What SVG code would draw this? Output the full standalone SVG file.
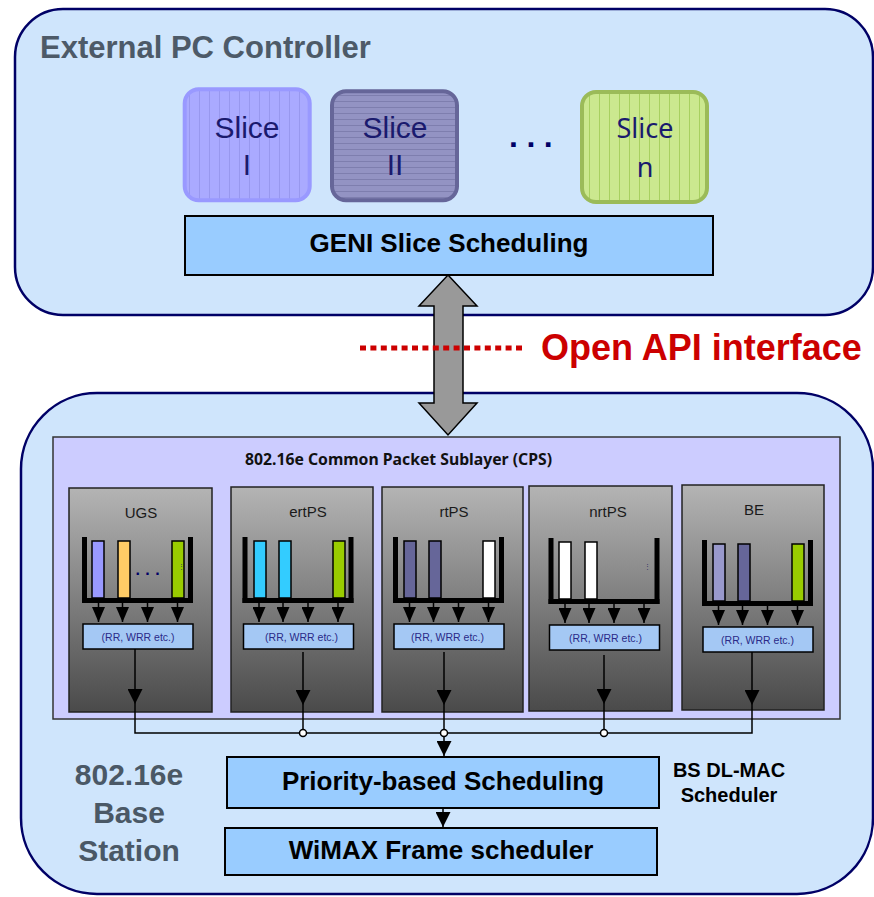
<svg xmlns="http://www.w3.org/2000/svg" xmlns:xlink="http://www.w3.org/1999/xlink" width="874" height="897" viewBox="0 0 874 897">
  <style>
    .sans { font-family: "Liberation Sans", Arial, sans-serif; }
    .cal { font-family: "Noto Sans", "Open Sans", sans-serif; }
    .container { fill: #cfe5fc; stroke: #000066; stroke-width: 2.5; }
    .slice-label { font-family: "Liberation Sans", Arial, sans-serif; font-size: 30px; fill: #1a1a6e; text-anchor: middle; }
    .bluebox { fill: #99ccff; stroke: #000; stroke-width: 2; }
    .big-label { font-family: "Liberation Sans", Arial, sans-serif; font-weight: bold; font-size: 26px; fill: #000; text-anchor: middle; }
    .station-label { font-family: "Liberation Sans", Arial, sans-serif; font-weight: bold; font-size: 30px; fill: #4a5866; text-anchor: middle; }
    .svc { fill: url(#svcGrad); stroke: #222; stroke-width: 1.5; }
    .svc-title { font-family: "Liberation Sans", Arial, sans-serif; font-size: 15px; fill: #1a1a1a; text-anchor: middle; }
    .wall { fill: #000; }
    .bar { stroke: #000; stroke-width: 1.5; }
    .rr { fill: #a4c8f4; stroke: #000; stroke-width: 1.5; }
    .rr-text { font-family: "Liberation Sans", Arial, sans-serif; font-size: 10.5px; fill: #2a2a88; text-anchor: middle; }
    .wire { fill: none; stroke: #000; stroke-width: 1.5; }
    .joint { fill: #fff; stroke: #000; stroke-width: 1.5; }
  </style>
  <defs>
    <linearGradient id="svcGrad" x1="0" y1="0" x2="0" y2="1">
      <stop offset="0" stop-color="#b4b4b4"/>
      <stop offset="1" stop-color="#4a4a4a"/>
    </linearGradient>
    <pattern id="vstripeBlue" width="10" height="10" patternUnits="userSpaceOnUse">
      <rect width="10" height="10" fill="#aaaaff"/>
      <rect x="9" width="1" height="10" fill="#9898ee"/>
    </pattern>
    <pattern id="hstripeGrey" width="10" height="6" patternUnits="userSpaceOnUse">
      <rect width="10" height="6" fill="#9393c3"/>
      <rect y="5" width="10" height="1" fill="#7e7eae"/>
    </pattern>
    <pattern id="vstripeGreen" width="10" height="10" patternUnits="userSpaceOnUse">
      <rect width="10" height="10" fill="#cbe88f"/>
      <rect x="9" width="1" height="10" fill="#a8d060"/>
    </pattern>
    <marker id="head" viewBox="0 0 10 10" refX="10" refY="5" markerUnits="userSpaceOnUse" markerWidth="15" markerHeight="15" preserveAspectRatio="none" orient="auto">
      <path d="M0,0 L10,5 L0,10 z" fill="#000"/>
    </marker>
    <marker id="headSmall" viewBox="0 0 10 10" refX="10" refY="5" markerUnits="userSpaceOnUse" markerWidth="15" markerHeight="13" preserveAspectRatio="none" orient="auto">
      <path d="M0,0 L10,5 L0,10 z" fill="#000"/>
    </marker>
    <!-- queue frame shared by every service class, centred on x=0 -->
    <g id="queueFrame">
      <rect class="wall" x="-55.5" y="537" width="5" height="66"/>
      <rect class="wall" x="50.5" y="537" width="5" height="66"/>
      <rect class="wall" x="-55.5" y="598" width="111" height="5"/>
      <line class="wire" x1="-39" y1="603" x2="-39" y2="622" marker-end="url(#headSmall)"/>
      <line class="wire" x1="-15" y1="603" x2="-15" y2="622" marker-end="url(#headSmall)"/>
      <line class="wire" x1="10" y1="603" x2="10" y2="622" marker-end="url(#headSmall)"/>
      <line class="wire" x1="40" y1="603" x2="40" y2="622" marker-end="url(#headSmall)"/>
      <rect class="rr" x="-54.5" y="624" width="110" height="25"/>
    </g>
  </defs>

  <!-- controller side -->
  <g id="external-pc-controller">
    <rect class="container" x="15" y="9" width="858" height="306" rx="48" ry="48"/>
    <text class="sans" x="40" y="58" font-size="31" font-weight="bold" fill="#4d5a68">External PC Controller</text>
  </g>

  <g id="slice-1">
    <rect x="184.7" y="89.3" width="125" height="111" rx="14" fill="url(#vstripeBlue)" stroke="#9999ff" stroke-width="4"/>
    <text class="slice-label" x="247" y="138">Slice</text>
    <text class="slice-label" x="247" y="175">I</text>
  </g>

  <g id="slice-2">
    <rect x="332" y="91.3" width="125" height="109" rx="14" fill="url(#hstripeGrey)" stroke="#666699" stroke-width="4"/>
    <text class="slice-label" x="395" y="138">Slice</text>
    <text class="slice-label" x="395" y="175">II</text>
  </g>

  <g id="slice-ellipsis">
    <text class="sans" x="509" y="147" font-size="32" font-weight="bold" fill="#000066" letter-spacing="8.5">...</text>
  </g>

  <g id="slice-n">
    <rect x="582" y="92" width="125" height="110" rx="14" fill="url(#vstripeGreen)" stroke="#9bbb59" stroke-width="4"/>
    <text class="cal" x="645" y="138" font-size="27" fill="#1a1a6e" text-anchor="middle">Slice</text>
    <text class="cal" x="645" y="177" font-size="27" fill="#1a1a6e" text-anchor="middle">n</text>
  </g>

  <g id="geni-slice-scheduling">
    <rect class="bluebox" x="185" y="216" width="528" height="59"/>
    <text class="big-label" x="449" y="252">GENI Slice Scheduling</text>
  </g>

  <!-- base station side -->
  <g id="base-station">
    <rect class="container" x="21" y="393" width="852" height="501" rx="76" ry="76"/>
    <text class="station-label" x="129" y="785">802.16e</text>
    <text class="station-label" x="129" y="823">Base</text>
    <text class="station-label" x="129" y="861">Station</text>
  </g>

  <g id="cps">
    <rect x="53" y="437" width="787" height="282" fill="#ccccff" stroke="#333" stroke-width="1.5"/>
    <text class="cal" x="398.5" y="465" font-size="16" font-weight="bold" fill="#111" text-anchor="middle" textLength="307" lengthAdjust="spacingAndGlyphs">802.16e Common Packet Sublayer (CPS)</text>
  </g>

  <g id="svc-ugs">
    <rect class="svc" x="69" y="488" width="143" height="224"/>
    <text class="svc-title" x="141" y="518">UGS</text>
    <g transform="translate(137.5,0)">
      <rect class="bar" x="-45.5" y="541" width="12" height="57" fill="#9999ff"/>
      <rect class="bar" x="-19.5" y="541" width="12" height="57" fill="#ffcc66"/>
      <rect class="bar" x="34.5" y="541" width="12" height="57" fill="#99cc00"/>
      <text class="sans" x="43.5" y="569" font-size="7" fill="#333366" text-anchor="middle">⋮</text>
      <text class="sans" x="-2" y="575" font-size="16" font-weight="bold" fill="#000066" letter-spacing="5.4">...</text>
      <use xlink:href="#queueFrame"/>
      <text class="rr-text" x="0.5" y="641">(RR, WRR etc.)</text>
    </g>
    <line class="wire" x1="135" y1="649" x2="135" y2="704" marker-end="url(#head)"/>
  </g>

  <g id="svc-ertps">
    <rect class="svc" x="231" y="487" width="142" height="225"/>
    <text class="svc-title" x="308" y="517">ertPS</text>
    <g transform="translate(298,0)">
      <rect class="bar" x="-44" y="541" width="12" height="57" fill="#33ccff"/>
      <rect class="bar" x="-19" y="541" width="12" height="57" fill="#33ccff"/>
      <rect class="bar" x="35" y="541" width="12" height="57" fill="#99cc00"/>
      <use xlink:href="#queueFrame"/>
      <text class="rr-text" x="3.5" y="641">(RR, WRR etc.)</text>
    </g>
    <line class="wire" x1="303" y1="652" x2="303" y2="705" marker-end="url(#head)"/>
  </g>

  <g id="svc-rtps">
    <rect class="svc" x="382" y="487" width="141" height="225"/>
    <text class="svc-title" x="454" y="517">rtPS</text>
    <g transform="translate(448.5,0)">
      <rect class="bar" x="-44.5" y="541" width="12" height="57" fill="#666699"/>
      <rect class="bar" x="-19.5" y="541" width="12" height="57" fill="#666699"/>
      <rect class="bar" x="34.5" y="541" width="12" height="57" fill="#ffffff"/>
      <use xlink:href="#queueFrame"/>
      <text class="rr-text" x="-1" y="641">(RR, WRR etc.)</text>
    </g>
    <line class="wire" x1="444" y1="652" x2="444" y2="705" marker-end="url(#head)"/>
  </g>

  <g id="svc-nrtps">
    <rect class="svc" x="529" y="486" width="143" height="225"/>
    <text class="svc-title" x="608" y="517">nrtPS</text>
    <g transform="translate(604,1)">
      <rect class="bar" x="-45" y="541" width="12" height="57" fill="#ffffff"/>
      <rect class="bar" x="-19" y="541" width="12" height="57" fill="#ffffff"/>
      <text class="sans" x="43" y="568" font-size="7" fill="#333366" text-anchor="middle">⋮</text>
      <use xlink:href="#queueFrame"/>
      <text class="rr-text" x="1.5" y="641">(RR, WRR etc.)</text>
    </g>
    <line class="wire" x1="604" y1="655" x2="604" y2="704" marker-end="url(#head)"/>
  </g>

  <g id="svc-be">
    <rect class="svc" x="682" y="485" width="142" height="225"/>
    <text class="svc-title" x="754" y="515">BE</text>
    <g transform="translate(757.5,3)">
      <rect class="bar" x="-44.5" y="541" width="12" height="57" fill="#9999cc"/>
      <rect class="bar" x="-19.5" y="541" width="12" height="57" fill="#666699"/>
      <rect class="bar" x="34.5" y="541" width="12" height="57" fill="#99cc00"/>
      <use xlink:href="#queueFrame"/>
      <text class="rr-text" x="0" y="641">(RR, WRR etc.)</text>
    </g>
    <line class="wire" x1="752" y1="652" x2="752" y2="705" marker-end="url(#head)"/>
  </g>

  <g id="priority-scheduling">
    <rect class="bluebox" x="227" y="757" width="432" height="51"/>
    <text class="big-label" x="443" y="790">Priority-based Scheduling</text>
  </g>

  <g id="wimax-frame-scheduler">
    <rect class="bluebox" x="225" y="828" width="432" height="47"/>
    <text class="big-label" x="441" y="859">WiMAX Frame scheduler</text>
  </g>

  <g id="bs-dl-mac-label">
    <text class="sans" x="729" y="777" font-size="20" font-weight="bold" fill="#000" text-anchor="middle">BS DL-MAC</text>
    <text class="sans" x="729" y="802" font-size="20" font-weight="bold" fill="#000" text-anchor="middle">Scheduler</text>
  </g>

  <!-- connectors -->
  <g id="connectors">
    <path class="wire" d="M135,704 V733 H752 V705"/>
    <line class="wire" x1="303" y1="705" x2="303" y2="733"/>
    <line class="wire" x1="444" y1="705" x2="444" y2="733"/>
    <line class="wire" x1="604" y1="704" x2="604" y2="733"/>
    <circle class="joint" cx="303" cy="733" r="3.5"/>
    <circle class="joint" cx="444" cy="733" r="3.5"/>
    <circle class="joint" cx="604" cy="733" r="3.5"/>
    <line class="wire" x1="444" y1="737" x2="444" y2="756" marker-end="url(#head)"/>
    <line class="wire" x1="443" y1="808" x2="443" y2="827" marker-end="url(#head)"/>
    <!-- open API link between controller and base station -->
    <path d="M448,275 L477,306 L463,306 L463,403 L477,403 L448,435 L419,403 L434,403 L434,306 L419,306 Z" fill="#999999" stroke="#000" stroke-width="1.5" stroke-linejoin="miter"/>
  </g>

  <g id="open-api-label">
    <line x1="360" y1="348" x2="524" y2="348" stroke="#cc0000" stroke-width="5" stroke-dasharray="6 4.4"/>
    <text class="sans" x="541" y="360" font-size="36" font-weight="bold" fill="#cc0000">Open API interface</text>
  </g>
</svg>
